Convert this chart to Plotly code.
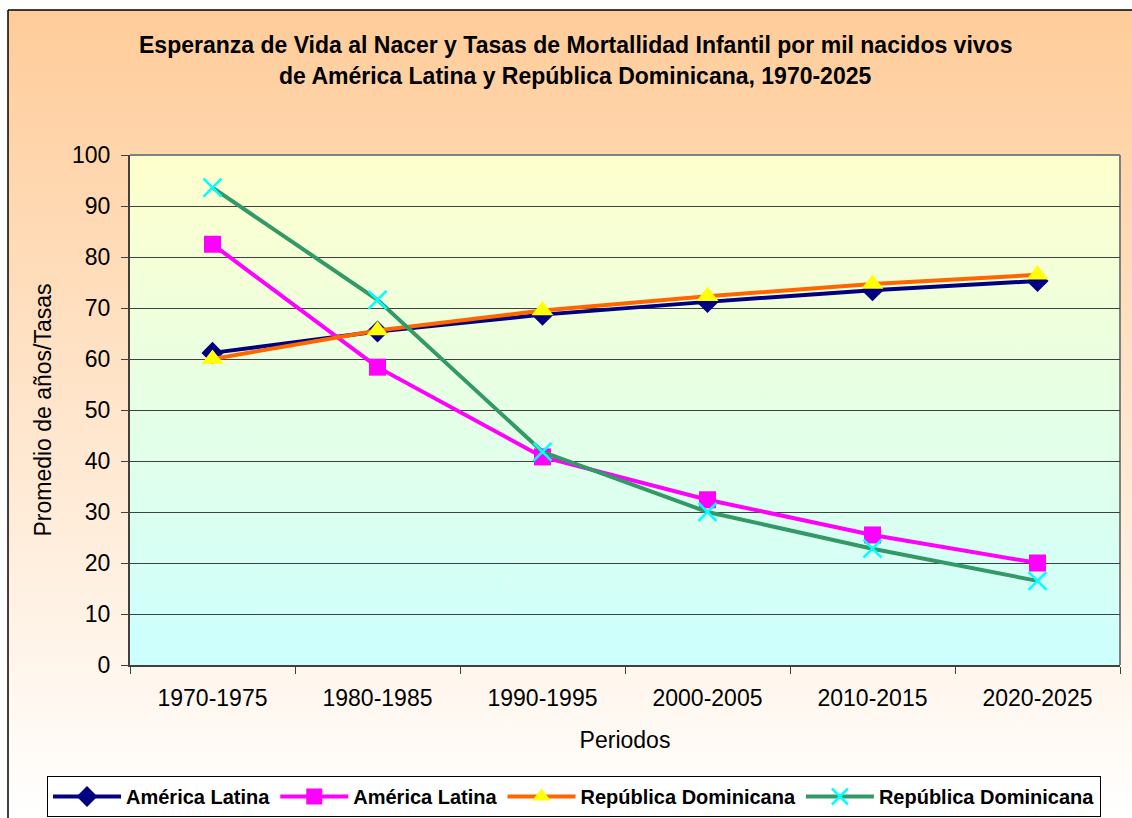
import base64
import plotly.graph_objects as go

# ---------------- data ----------------
periodos = ["1970-1975", "1980-1985", "1990-1995", "2000-2005", "2010-2015", "2020-2025"]
esperanza_al = [61.2, 65.4, 68.7, 71.2, 73.5, 75.3]      # América Latina (esperanza de vida)
mortalidad_al = [82.5, 58.4, 40.8, 32.4, 25.5, 20.0]     # América Latina (mortalidad infantil)
esperanza_rd = [60.0, 65.6, 69.5, 72.3, 74.7, 76.5]      # República Dominicana (esperanza de vida)
mortalidad_rd = [93.6, 71.6, 41.8, 30.0, 22.8, 16.5]     # República Dominicana (mortalidad infantil)
y_ticks = [0, 10, 20, 30, 40, 50, 60, 70, 80, 90, 100]

title_1 = "Esperanza de Vida al Nacer y Tasas de Mortallidad Infantil por mil nacidos vivos"
title_2 = "de América Latina y República Dominicana, 1970-2025"

# ---------------- geometry ----------------
W, H = 1132, 818
L, R, T, B = 130, 12, 155, 153
PW, PH = W - L - R, H - T - B
FONT = "Arial, Liberation Sans, sans-serif"


def px2x(px):
    return (px - L) / PW


def px2y(py):
    return (H - B - py) / PH


def grad_svg(c1, c2):
    svg = ("<svg xmlns='http://www.w3.org/2000/svg' width='100' height='100' "
           "viewBox='0 0 100 100' preserveAspectRatio='none'>"
           "<defs><linearGradient id='g' x1='0' y1='0' x2='0' y2='1'>"
           f"<stop offset='0' stop-color='{c1}'/><stop offset='1' stop-color='{c2}'/>"
           "</linearGradient></defs><rect width='100' height='100' fill='url(#g)'/></svg>")
    return "data:image/svg+xml;base64," + base64.b64encode(svg.encode()).decode()


fig = go.Figure()

fig.add_trace(go.Scatter(
    x=periodos, y=esperanza_al, name="América Latina", mode="lines+markers",
    line=dict(color="#000080", width=4),
    marker=dict(symbol="diamond", size=17, color="#000080")))
fig.add_trace(go.Scatter(
    x=periodos, y=mortalidad_al, name="América Latina", mode="lines+markers",
    line=dict(color="#FF00FF", width=4),
    marker=dict(symbol="square", size=17, color="#FF00FF")))
fig.add_trace(go.Scatter(
    x=periodos, y=esperanza_rd, name="República Dominicana", mode="lines+markers",
    line=dict(color="#FF6600", width=4),
    marker=dict(symbol="triangle-up", size=19, color="#FFFF00")))
fig.add_trace(go.Scatter(
    x=periodos, y=mortalidad_rd, name="República Dominicana", mode="lines+markers",
    line=dict(color="#339966", width=4),
    marker=dict(symbol="x-thin", size=18, color="#00FFFF",
                line=dict(color="#00FFFF", width=2.5))))

images = [
    # chart background gradient (peach -> white)
    dict(source=grad_svg("#FFCC99", "#FFFFFF"), xref="paper", yref="paper",
         x=px2x(8), y=px2y(10), sizex=(W - 8) / PW, sizey=(H - 10) / PH,
         sizing="stretch", layer="below", xanchor="left", yanchor="top"),
    # plot area gradient (light yellow -> light cyan)
    dict(source=grad_svg("#FFFFCC", "#CCFFFF"), xref="paper", yref="paper",
         x=0, y=1, sizex=1, sizey=1, sizing="stretch", layer="below",
         xanchor="left", yanchor="top"),
]

shapes = [
    # outer chart frame (top and left visible)
    dict(type="line", xref="paper", yref="paper", x0=px2x(8), x1=px2x(W + 5),
         y0=px2y(10), y1=px2y(10), line=dict(color="#000000", width=1.5)),
    dict(type="line", xref="paper", yref="paper", x0=px2x(8), x1=px2x(8),
         y0=px2y(10), y1=px2y(H + 5), line=dict(color="#000000", width=1.5)),
    # plot area border top/right (gray)
    dict(type="line", xref="paper", yref="paper", x0=0, x1=1, y0=1, y1=1,
         line=dict(color="#808080", width=2), layer="below"),
    dict(type="line", xref="paper", yref="paper", x0=1, x1=1, y0=0, y1=1,
         line=dict(color="#808080", width=2), layer="below"),
]

annotations = [
    dict(text=f"<b>{title_1}</b>", xref="paper", yref="paper", x=px2x(575), y=px2y(45),
         xanchor="center", yanchor="middle", showarrow=False,
         font=dict(family=FONT, size=23, color="#000000")),
    dict(text=f"<b>{title_2}</b>", xref="paper", yref="paper", x=px2x(575), y=px2y(76),
         xanchor="center", yanchor="middle", showarrow=False,
         font=dict(family=FONT, size=23, color="#000000")),
]

fig.update_layout(
    width=W, height=H,
    margin=dict(l=L, r=R, t=T, b=B, pad=0, autoexpand=False),
    paper_bgcolor="#FFFFFF",
    plot_bgcolor="rgba(0,0,0,0)",
    font=dict(family=FONT, size=23, color="#000000"),
    images=images, shapes=shapes, annotations=annotations,
    showlegend=True,
    legend=dict(orientation="h", x=px2x(47), xanchor="left", y=px2y(776), yanchor="top",
                bgcolor="#FFFFFF", bordercolor="#000000", borderwidth=1,
                font=dict(family=FONT, size=20, color="#000000", weight="bold"),
                itemwidth=68, tracegroupgap=0),
    xaxis=dict(type="category", range=[-0.5, 5.5], showgrid=False,
               showline=True, linecolor="#404040", linewidth=2,
               ticks="outside", tickson="boundaries", ticklen=7, tickcolor="#404040",
               tickfont=dict(family=FONT, size=23), ticklabelstandoff=11,
               title=dict(text="Periodos", font=dict(family=FONT, size=23), standoff=22),
               zeroline=False, fixedrange=True),
    yaxis=dict(range=[0, 100], tickvals=y_ticks, showgrid=True, gridcolor="#404040", gridwidth=1,
               showline=True, linecolor="#404040", linewidth=2,
               ticks="outside", ticklen=7, tickcolor="#404040",
               tickfont=dict(family=FONT, size=23), ticklabelstandoff=6,
               title=dict(text="Promedio de años/Tasas", font=dict(family=FONT, size=23), standoff=14),
               zeroline=False, fixedrange=True),
)

fig.write_html("out.html", include_plotlyjs=True,
               config={"displayModeBar": False, "responsive": False},
               post_script="document.body.style.margin='0';document.body.style.overflow='hidden';")
